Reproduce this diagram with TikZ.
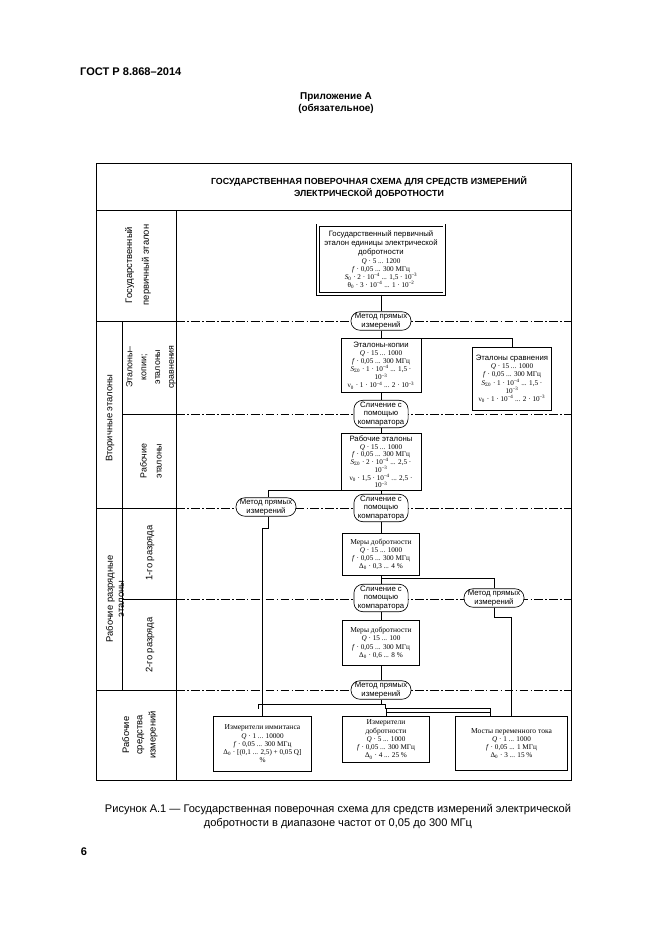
\documentclass[tikz,border=0pt]{standalone}
\usepackage{fontspec}
\setmainfont{Liberation Serif}
\setsansfont{Liberation Sans}
\usetikzlibrary{calc}
\newcommand{\bxTitle}{\fontsize{7}{8.3}\selectfont\sffamily}
\newcommand{\bxSerif}{\fontsize{6.8}{8}\selectfont\rmfamily}
\newcommand{\bxPar}{\fontsize{6.5}{7.4}\selectfont\rmfamily}
\newcommand{\bxParTight}{\fontsize{6.5}{7}\selectfont\rmfamily}
\tikzset{
  frameline/.style={line width=0.7pt},
  cell/.style={line width=0.7pt},
  rowline/.style={line width=0.5pt, dash pattern=on 8pt off 2pt on 1.5pt off 2pt},
  pbox/.style={draw, line width=0.6pt, fill=white, inner xsep=1pt, inner ysep=1pt, align=flush center, anchor=north},
  oval/.style={draw, line width=0.6pt, fill=white, rounded corners=8pt, inner xsep=3.5pt, inner ysep=1.2pt, align=center, font=\fontsize{7}{8}\selectfont\sffamily},
  conn/.style={line width=0.6pt},
  vlabel/.style={rotate=90, align=center},
}
\begin{document}
\begin{tikzpicture}[x=0.3177mm, y=-0.3177mm]
\useasboundingbox (0,0) rectangle (661,935);
\fill[white] (0,0) rectangle (661,935);

% header
\node[anchor=west, font=\fontsize{10}{12}\selectfont\sffamily\bfseries, inner sep=0] (gost) at (80,72) {ГОСТ Р 8.868–2014};
\node[align=center, font=\fontsize{9}{11}\selectfont\sffamily\bfseries] (app) at (336,103) {Приложение А\\(обязательное)};

% frame
\draw[frameline] (96,163) rectangle (571,780);
\draw[frameline] (96,210) -- (571,210);
\node[align=center, font=\fontsize{8}{11}\selectfont\sffamily\bfseries] (title) at (369,187) {ГОСУДАРСТВЕННАЯ ПОВЕРОЧНАЯ СХЕМА ДЛЯ СРЕДСТВ ИЗМЕРЕНИЙ\\ЭЛЕКТРИЧЕСКОЙ ДОБРОТНОСТИ};

% left column
\draw[cell] (176,210) -- (176,780);
\draw[cell] (122,321) -- (122,690);
\draw[cell] (96,321) -- (176,321);
\draw[cell] (122,414) -- (176,414);
\draw[cell] (96,508) -- (176,508);
\draw[cell] (122,599) -- (176,599);
\draw[cell] (96,690) -- (176,690);

\node[vlabel, font=\fontsize{8.5}{15}\selectfont\sffamily] (l1) at (138,265) {Государственный\\первичный эталон};
\node[vlabel, font=\fontsize{8.5}{12}\selectfont\sffamily] (l2) at (110,418) {Вторичные эталоны};
\node[vlabel, font=\fontsize{8}{12.5}\selectfont\sffamily] (l3) at (151,367) {Эталоны–\\копии;\\эталоны\\сравнения};
\node[vlabel, font=\fontsize{8}{13.5}\selectfont\sffamily] (l4) at (151,461) {Рабочие\\эталоны};
\node[vlabel, font=\fontsize{8.5}{10}\selectfont\sffamily] (l5) at (115,599) {Рабочие разрядные\\эталоны};
\node[vlabel, font=\fontsize{8.5}{10}\selectfont\sffamily] (l6) at (150,553) {1-го разряда};
\node[vlabel, font=\fontsize{8.5}{10}\selectfont\sffamily] (l7) at (150,645) {2-го разряда};
\node[vlabel, font=\fontsize{8.5}{12}\selectfont\sffamily] (l8) at (140,735) {Рабочие\\средства\\измерений};

% row separators
\foreach \yy in {321,414,508,599,690} \draw[rowline] (176,\yy) -- (571,\yy);

% boxes
\node[pbox, double, double distance=2pt, text width=39.5mm, minimum height=21.9mm] (prim) at (381,225)
 {{\bxTitle Государственный первичный\\эталон единицы электрической\\добротности\par}
  {\bxPar \textit{Q} · 5 ... 1200\\\textit{f} · 0,05 ... 300 МГц\\\textit{S}\textsubscript{0} · 2 · 10\textsuperscript{–4} ... 1,5 · 10\textsuperscript{–3}\\θ\textsubscript{0} · 3 · 10\textsuperscript{–4} ... 1 · 10\textsuperscript{–2}\par}};

\node[pbox, text width=24.8mm, minimum height=17.2mm] (copies) at (381,338)
 {{\bxTitle Эталоны-копии\par}
  {\bxPar \textit{Q} · 15 ... 1000\\\textit{f} · 0,05 ... 300 МГц\\\textit{S}\textsubscript{Σ0} · 1 · 10\textsuperscript{–4} ... 1,5 ·\\10\textsuperscript{–3}\\ν\textsubscript{0} · 1 · 10\textsuperscript{–4} ... 2 · 10\textsuperscript{–3}\par}};

\node[pbox, text width=24.5mm, minimum height=20mm] (compare) at (512,347)
 {{\bxTitle Эталоны сравнения\par}
  {\bxPar \textit{Q} · 15 ... 1000\\\textit{f} · 0,05 ... 300 МГц\\\textit{S}\textsubscript{Σ0} · 1 · 10\textsuperscript{–4} ... 1,5 ·\\10\textsuperscript{–3}\\ν\textsubscript{0} · 1 · 10\textsuperscript{–4} ... 2 · 10\textsuperscript{–3}\par}};

\node[pbox, text width=24.8mm, minimum height=18.1mm, inner ysep=0.5pt] (rab) at (381,433)
 {{\bxTitle Рабочие эталоны\par}
  {\bxParTight \textit{Q} · 15 ... 1000\\\textit{f} · 0,05 ... 300 МГц\\\textit{S}\textsubscript{Σ0} · 2 · 10\textsuperscript{–4} ... 2,5 ·\\10\textsuperscript{–3}\\ν\textsubscript{0} · 1,5 · 10\textsuperscript{–4} ... 2,5 ·\\10\textsuperscript{–3}\par}};

\node[pbox, text width=23.9mm, minimum height=13.3mm] (mery1) at (381,533)
 {{\bxSerif Меры добротности\par}
  {\bxPar \textit{Q} · 15 ... 1000\\\textit{f} · 0,05 ... 300 МГц\\Δ\textsubscript{0} · 0,3 ... 4 \%\par}};

\node[pbox, text width=23.9mm, minimum height=14.3mm] (mery2) at (381,620)
 {{\bxSerif Меры добротности\par}
  {\bxPar \textit{Q} · 15 ... 100\\\textit{f} · 0,05 ... 300 МГц\\Δ\textsubscript{0} · 0,6 ... 8 \%\par}};

\node[pbox, text width=30.6mm, minimum height=17.5mm] (imm) at (262.5,716)
 {{\bxSerif Измерители иммитанса\par}
  {\bxPar \textit{Q} · 1 ... 10000\\\textit{f} · 0,05 ... 300 МГц\\Δ\textsubscript{0} · [(0,1 ... 2,5) + 0,05 Q]\\\%\par}};

\node[pbox, text width=27.1mm, minimum height=14.6mm] (izd) at (386,716)
 {{\bxSerif Измерители\\добротности\par}
  {\bxPar \textit{Q} · 5 ... 1000\\\textit{f} · 0,05 ... 300 МГц\\Δ\textsubscript{0} · 4 ... 25 \%\par}};

\node[pbox, text width=35mm, minimum height=17.2mm] (mosty) at (511.5,716)
 {{\bxSerif Мосты переменного тока\par}
  {\bxPar \textit{Q} · 1 ... 1000\\\textit{f} · 0,05 ... 1 МГц\\Δ\textsubscript{0} · 3 ... 15 \%\par}};

% ovals
\node[oval] (mp1) at (381,321) {Метод прямых\\измерений};
\node[oval] (sl1) at (381,414) {Сличение с\\помощью\\компаратора};
\node[oval] (mpl) at (266,507) {Метод прямых\\измерений};
\node[oval] (sl2) at (381,508) {Сличение с\\помощью\\компаратора};
\node[oval] (sl3) at (381,598) {Сличение с\\помощью\\компаратора};
\node[oval] (mpr) at (494,598) {Метод прямых\\измерений};
\node[oval] (mp4) at (381,690) {Метод прямых\\измерений};

% junction points
\coordinate (b1) at (381,578);
\coordinate (b2) at (511.5,617);
\coordinate (j2) at (262.5,528);
\coordinate (c1) at (381,704);
\coordinate (c2) at (258,704);
\coordinate (c3) at (258,709);

% connectors
\draw[conn] (prim.south) -- (mp1.north);
\draw[conn] (mp1.south) -- (copies.north);
\draw[conn] (copies.north) -| (compare.north);
\draw[conn] (copies.south) -- (sl1.north);
\draw[conn] (sl1.south) -- (rab.north);
\draw[conn] (rab.south) -- (sl2.north);
\draw[conn] (rab.south) -| ($(mpl.north)+(2,0)$);
\draw[conn] ($(mpl.south)+(2,0)$) |- (j2) -- (imm.north);
\draw[conn] (sl2.south) -- (mery1.north);
\draw[conn] (mery1.south) -- (sl3.north);
\draw[conn] (b1) -| (mpr.north);
\draw[conn] (mpr.south) |- (b2) -- (mosty.north);
\draw[conn] (sl3.south) -- (mery2.north);
\draw[conn] (mery2.south) -- (mp4.north);
\draw[conn] (mp4.south) -- (c1) -- (c2) -- (c3);
\draw[conn] (c1) -- (385,704) -- (385,708) -- (490,708) -- (490,716);
\draw[conn] (386,708) -- (izd.north);
\draw[conn] (387,712) -- (490,712);

% caption
\node[align=center, font=\fontsize{10}{12.6}\selectfont\sffamily] (cap) at (338,817) {Рисунок А.1 — Государственная поверочная схема для средств измерений электрической\\добротности в диапазоне частот от 0,05 до 300 МГц};
\node[font=\fontsize{10}{12}\selectfont\sffamily\bfseries] (pg) at (84,852) {6};
\end{tikzpicture}
\end{document}
